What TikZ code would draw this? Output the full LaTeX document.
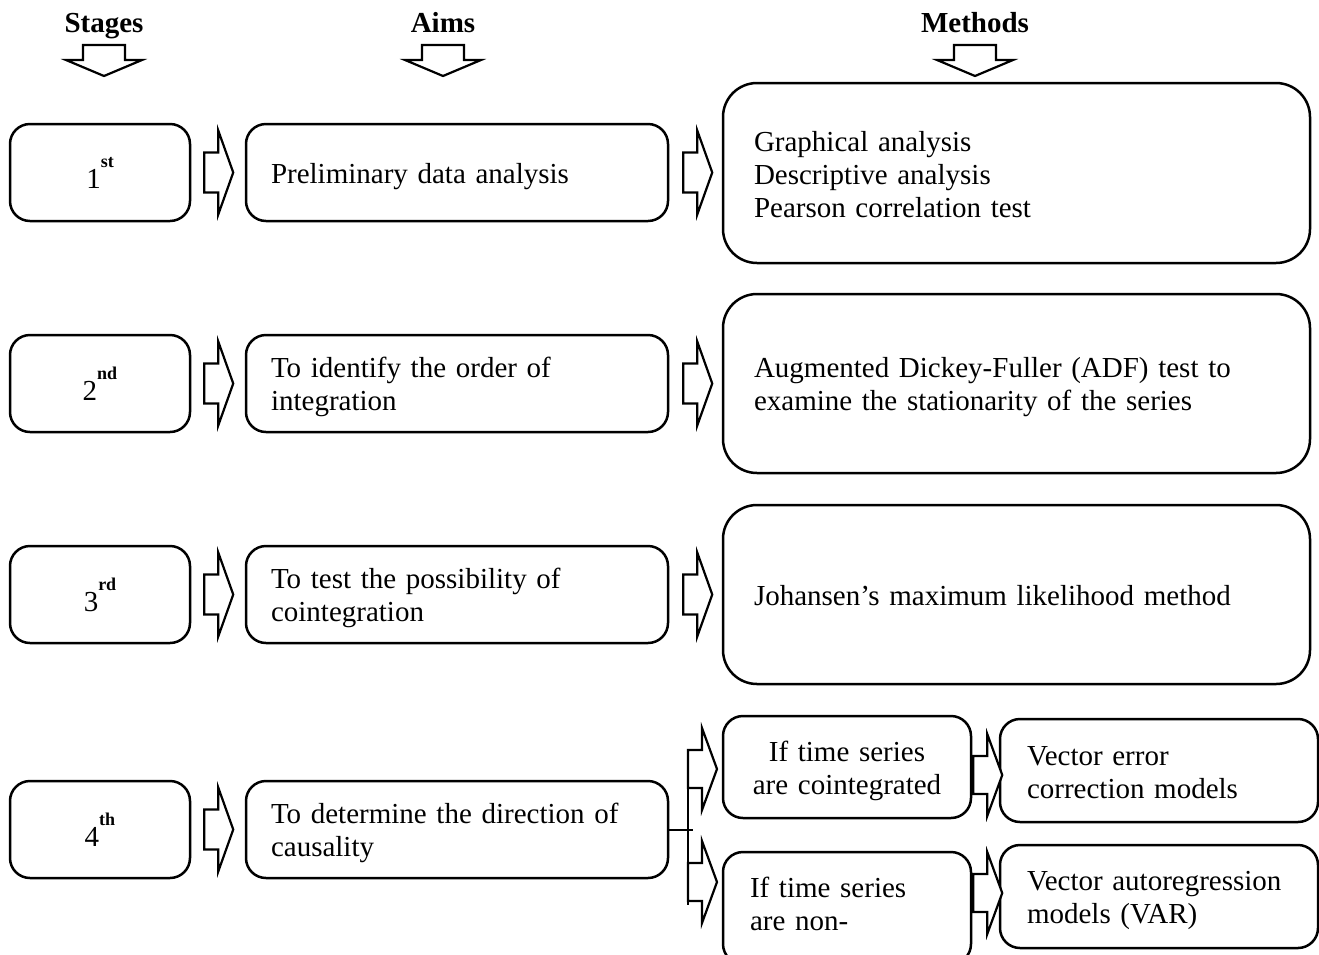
\documentclass[tikz,border=0pt]{standalone}
\usepackage{fontspec}
\setmainfont{Liberation Serif}
\newcommand{\ord}[2]{#1\raisebox{21pt}{\fontsize{18}{18}\selectfont\bfseries #2}}
\begin{document}
\begin{tikzpicture}[x=1pt,y=-1pt,
  box/.style={draw, line width=2.5pt, rounded corners=20pt, inner sep=0pt,
    font=\fontsize{29}{33}\selectfont},
  tbox/.style={box, execute at begin node={\rule{0pt}{28pt}}, execute at end node={\rule[-6pt]{0pt}{6pt}}},
  mbox/.style={tbox, rounded corners=34pt},
  head/.style={font=\fontsize{29}{33}\selectfont\bfseries, anchor=base},
  arrowline/.style={draw, line width=2.2pt, line join=miter, fill=white},
  rarr/.pic={\path[arrowline] (0,-20) -- (14,-20) -- (14,-42) -- (29,0) -- (14,42) -- (14,20) -- (0,20) -- cycle;},
  sarr/.pic={\path[arrowline] (0,-19) -- (14,-19) -- (14,-41) -- (29,0) -- (14,41) -- (14,19) -- (0,19) -- cycle;},
  darr/.pic={\path[arrowline] (-21,0) -- (21,0) -- (21,15) -- (38,15) -- (0,31) -- (-38,15) -- (-21,15) -- cycle;}
]
\clip (0,0) rectangle (1319,954);
\fill[white] (0,0) rectangle (1319,954);

% headers
\node[head] (hs) at (104,32) {Stages};
\node[head] (ha) at (443,32) {Aims};
\node[head] (hm) at (975,32) {Methods};
\pic at (104,45) {darr};
\pic at (443,45) {darr};
\pic at (975,45) {darr};

% stage boxes
\node[box, minimum width=180pt, minimum height=97pt] (s1) at (100,172.5) {\ord{1}{st}};
\node[box, minimum width=180pt, minimum height=97pt] (s2) at (100,383.5) {\ord{2}{nd}};
\node[box, minimum width=180pt, minimum height=97pt] (s3) at (100,594.5) {\ord{3}{rd}};
\node[box, minimum width=180pt, minimum height=97pt] (s4) at (100,829.5) {\ord{4}{th}};

% aim boxes
\node[tbox, minimum width=422pt, minimum height=97pt, text width=372pt, align=left] (a1) at (457,172.5) {Preliminary data analysis};
\node[tbox, minimum width=422pt, minimum height=97pt, text width=372pt, align=left] (a2) at (457,383.5) {To identify the order of\\integration};
\node[tbox, minimum width=422pt, minimum height=97pt, text width=372pt, align=left] (a3) at (457,594.5) {To test the possibility of\\cointegration};
\node[tbox, minimum width=422pt, minimum height=97pt, text width=372pt, align=left] (a4) at (457,829.5) {To determine the direction of\\causality};

% method boxes
\node[mbox, minimum width=587pt, minimum height=180pt, text width=525pt, align=left] (m1) at (1016.5,173) {Graphical analysis\\Descriptive analysis\\Pearson correlation test};
\node[mbox, minimum width=587pt, minimum height=179pt, text width=525pt, align=left] (m2) at (1016.5,383.5) {Augmented Dickey-Fuller (ADF) test to\\examine the stationarity of the series};
\node[mbox, minimum width=587pt, minimum height=179pt, text width=525pt, align=left] (m3) at (1016.5,594.5) {Johansen's maximum likelihood method};

% fourth stage branches
\node[tbox, minimum width=248pt, minimum height=102pt, text width=240pt, align=center] (c1) at (847,767) {If time series\\are cointegrated};
\node[box, minimum width=248pt, minimum height=112pt, text width=194pt, align=left,
  execute at end node={\rule[-8pt]{0pt}{8pt}}] (c2) at (847,908) {If time series\\are non-};
\node[tbox, minimum width=318pt, minimum height=103pt, text width=264pt, align=left] (v1) at (1159,770.5) {Vector error\\correction models};
\node[tbox, minimum width=318pt, minimum height=103pt, text width=264pt, align=left] (v2) at (1159,896.5) {\mbox{Vector autoregression}\\models (VAR)};

% block arrows between boxes
\pic at ([xshift=13pt]s1.east) {rarr};
\pic at ([xshift=13pt]s2.east) {rarr};
\pic at ([xshift=13pt]s3.east) {rarr};
\pic at ([xshift=13pt]s4.east) {rarr};
\pic at ([xshift=14pt]a1.east) {rarr};
\pic at ([xshift=14pt]a2.east) {rarr};
\pic at ([xshift=14pt]a3.east) {rarr};

% branch
\coordinate (bt) at (688,750);
\coordinate (bb) at (688,905);
\coordinate (bj) at (693,829.5);
\draw[line width=2pt] (a4.east) -- (bj);
\draw[line width=2pt] (bt) -- (bb);
\pic at (688,769) {sarr};
\pic at (688,882) {sarr};
\pic at ([xshift=1pt,yshift=-8pt]c1.east) {sarr};
\pic at ([xshift=1pt,yshift=15pt]c2.east) {sarr};
\end{tikzpicture}
\end{document}
